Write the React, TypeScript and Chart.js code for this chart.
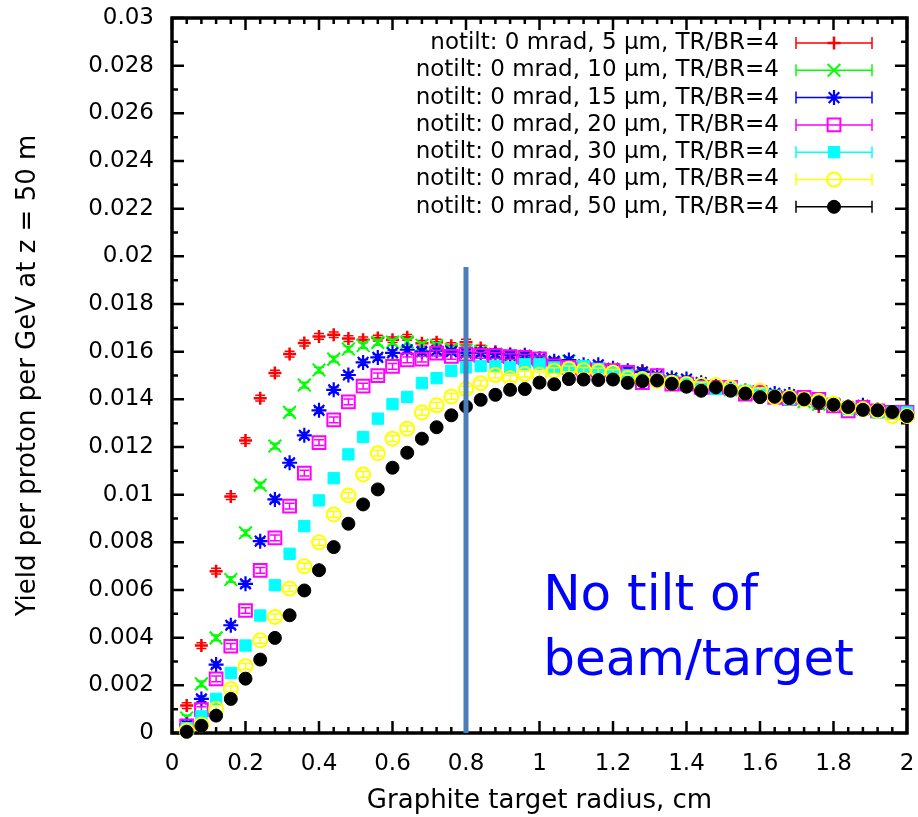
import React, { useEffect, useRef } from 'react';
import { Chart, registerables, PointElement } from 'chart.js';

Chart.register(...registerables);

// ---------------- data ----------------
const X_VALUES = [0.04, 0.08, 0.12, 0.16, 0.2, 0.24, 0.28, 0.32, 0.36, 0.4, 0.44, 0.48, 0.52, 0.56, 0.6, 0.64, 0.68, 0.72, 0.76, 0.8, 0.84, 0.88, 0.92, 0.96, 1.0, 1.04, 1.08, 1.12, 1.16, 1.2, 1.24, 1.28, 1.32, 1.36, 1.4, 1.44, 1.48, 1.52, 1.56, 1.6, 1.64, 1.68, 1.72, 1.76, 1.8, 1.84, 1.88, 1.92, 1.96, 2.0];

const SERIES_LABELS = [
  'notilt: 0 mrad, 5 μm, TR/BR=4',
  'notilt: 0 mrad, 10 μm, TR/BR=4',
  'notilt: 0 mrad, 15 μm, TR/BR=4',
  'notilt: 0 mrad, 20 μm, TR/BR=4',
  'notilt: 0 mrad, 30 μm, TR/BR=4',
  'notilt: 0 mrad, 40 μm, TR/BR=4',
  'notilt: 0 mrad, 50 μm, TR/BR=4',
];

const Y_5UM = [0.00115, 0.00367, 0.00679, 0.00992, 0.01227, 0.01405, 0.0151, 0.0159, 0.01636, 0.01664, 0.01671, 0.01655, 0.0165, 0.01657, 0.0165, 0.0166, 0.01635, 0.0164, 0.01625, 0.0164, 0.01615, 0.016, 0.0159, 0.0158, 0.01565, 0.01555, 0.01545, 0.01535, 0.01525, 0.01515, 0.01505, 0.0152, 0.01495, 0.0148, 0.0147, 0.0146, 0.01455, 0.01445, 0.0143, 0.0142, 0.01415, 0.01405, 0.01395, 0.0137, 0.0138, 0.01365, 0.0136, 0.0135, 0.01345, 0.01335];
const Y_10UM = [0.00063, 0.00206, 0.00399, 0.00644, 0.0084, 0.0104, 0.01204, 0.01345, 0.0146, 0.01523, 0.01569, 0.01611, 0.01626, 0.01639, 0.0164, 0.01641, 0.01627, 0.01625, 0.0161, 0.01605, 0.016, 0.0159, 0.0158, 0.0157, 0.0156, 0.0155, 0.0156, 0.01535, 0.01525, 0.01515, 0.01505, 0.01495, 0.01485, 0.01475, 0.01465, 0.01455, 0.0145, 0.0144, 0.0142, 0.01425, 0.01415, 0.01405, 0.0139, 0.0138, 0.0138, 0.0136, 0.0136, 0.0135, 0.01345, 0.0134];
const Y_15UM = [0.00035, 0.00143, 0.00287, 0.00452, 0.00626, 0.00805, 0.0098, 0.01134, 0.01249, 0.01354, 0.0144, 0.01502, 0.01555, 0.01576, 0.01595, 0.01608, 0.016, 0.01604, 0.016, 0.01595, 0.01595, 0.0159, 0.01585, 0.01585, 0.0157, 0.0156, 0.01565, 0.01545, 0.01545, 0.0153, 0.0152, 0.01515, 0.015, 0.0149, 0.01485, 0.0147, 0.0146, 0.0145, 0.01435, 0.0143, 0.01425, 0.0142, 0.014, 0.01385, 0.0138, 0.0137, 0.01375, 0.01355, 0.01345, 0.0134];
const Y_20UM = [0.0003, 0.00098, 0.00227, 0.00364, 0.00514, 0.00682, 0.00819, 0.00952, 0.0109, 0.01218, 0.01314, 0.01389, 0.01455, 0.01499, 0.01538, 0.01566, 0.01569, 0.01594, 0.0158, 0.0159, 0.01584, 0.01583, 0.01579, 0.01576, 0.0157, 0.0154, 0.01534, 0.01527, 0.01524, 0.0152, 0.01513, 0.0147, 0.01499, 0.01464, 0.01464, 0.0145, 0.0145, 0.0145, 0.01422, 0.01429, 0.01408, 0.01403, 0.01408, 0.014, 0.01373, 0.01352, 0.01366, 0.01352, 0.01345, 0.01345];
const Y_30UM = [0.0002, 0.0007, 0.00143, 0.00252, 0.00367, 0.00493, 0.0062, 0.00752, 0.00868, 0.00976, 0.01069, 0.01169, 0.01242, 0.01319, 0.0138, 0.0141, 0.01468, 0.01489, 0.0152, 0.01534, 0.0154, 0.0154, 0.01534, 0.01548, 0.01548, 0.01534, 0.0153, 0.0154, 0.01527, 0.01513, 0.015, 0.01485, 0.01485, 0.0147, 0.01464, 0.0145, 0.01443, 0.01443, 0.01436, 0.01422, 0.01415, 0.014, 0.014, 0.0139, 0.0138, 0.01359, 0.01359, 0.01345, 0.01345, 0.01345];
const Y_40UM = [0.0001, 0.00035, 0.00101, 0.00185, 0.0028, 0.00389, 0.00487, 0.00606, 0.007, 0.008, 0.00917, 0.00997, 0.01085, 0.01174, 0.01235, 0.01277, 0.01345, 0.01375, 0.01412, 0.01443, 0.01468, 0.01502, 0.01488, 0.01506, 0.01503, 0.0152, 0.01528, 0.01522, 0.01518, 0.01513, 0.0149, 0.01485, 0.01478, 0.0147, 0.01464, 0.0146, 0.0146, 0.0145, 0.01429, 0.01436, 0.01408, 0.01408, 0.014, 0.01394, 0.0138, 0.01366, 0.01359, 0.01352, 0.0133, 0.0133];
const Y_50UM = [0.00005, 0.0003, 0.00073, 0.00143, 0.00228, 0.00308, 0.00399, 0.00494, 0.00598, 0.00683, 0.0078, 0.00878, 0.00959, 0.01022, 0.01113, 0.01176, 0.01235, 0.01283, 0.01333, 0.0137, 0.01398, 0.01419, 0.0144, 0.01443, 0.0147, 0.01463, 0.01485, 0.01483, 0.01481, 0.01483, 0.01469, 0.01476, 0.01479, 0.01465, 0.01453, 0.01436, 0.0145, 0.01436, 0.01424, 0.01409, 0.01411, 0.01405, 0.014, 0.01387, 0.01377, 0.01368, 0.01356, 0.01354, 0.01347, 0.0133];

const SERIES_VALUES = [Y_5UM, Y_10UM, Y_15UM, Y_20UM, Y_30UM, Y_40UM, Y_50UM];

// half-height of the error bars drawn on every point
const ERRORBAR_HALF = 0.00012;

const X_TICKS = [0, 0.2, 0.4, 0.6, 0.8, 1.0, 1.2, 1.4, 1.6, 1.8, 2.0];
const X_TICK_LABELS = ['0', '0.2', '0.4', '0.6', '0.8', '1', '1.2', '1.4', '1.6', '1.8', '2'];
const Y_TICKS = [0, 0.002, 0.004, 0.006, 0.008, 0.01, 0.012, 0.014, 0.016, 0.018, 0.02, 0.022, 0.024, 0.026, 0.028, 0.03];
const Y_TICK_LABELS = ['0', '0.002', '0.004', '0.006', '0.008', '0.01', '0.012', '0.014', '0.016', '0.018', '0.02', '0.022', '0.024', '0.026', '0.028', '0.03'];

const X_TITLE = 'Graphite target radius, cm';
const Y_TITLE = 'Yield per proton per GeV at z = 50 m';

const VLINE_X = [0.8, 0.8];
const VLINE_Y = [0, 0.01955];

const NOTE_LINES = ['No tilt of', 'beam/target'];
const NOTE_X = 1.01;
const NOTE_Y = [0.00518, 0.00245];

// ---------------- styles ----------------
const SERIES_STYLES = [
  { color: '#ff0000', pointStyle: 'cross', radius: 6.5, borderWidth: 2.5, fill: false },
  { color: '#00ff00', pointStyle: 'crossRot', radius: 9, borderWidth: 2, fill: false },
  { color: '#0000ff', pointStyle: 'star', radius: 7.5, borderWidth: 2.2, fill: false },
  { color: '#ff00ff', pointStyle: 'rect', radius: 9, borderWidth: 2, fill: false },
  { color: '#00ffff', pointStyle: 'rect', radius: 8, borderWidth: 1, fill: true },
  { color: '#ffff00', pointStyle: 'circle', radius: 7, borderWidth: 2, fill: false },
  { color: '#000000', pointStyle: 'circle', radius: 6.5, borderWidth: 1, fill: true },
];

const FONT = 'DejaVu Sans';
const NSERIES = SERIES_VALUES.length;

const decorPlugin = {
  id: 'decor',
  beforeDatasetsDraw(chart: any) {
    const { ctx, chartArea: a, scales } = chart;
    const xs = scales.x;
    const ys = scales.y;
    ctx.save();
    ctx.strokeStyle = '#000';
    ctx.lineWidth = 2.5;
    ctx.beginPath();
    const MAJ = 12;
    const MIN = 6;
    const xt = (v: number, len: number) => {
      const px = xs.getPixelForValue(v);
      ctx.moveTo(px, a.bottom);
      ctx.lineTo(px, a.bottom - len);
      ctx.moveTo(px, a.top);
      ctx.lineTo(px, a.top + len);
    };
    const yt = (v: number, len: number) => {
      const py = ys.getPixelForValue(v);
      ctx.moveTo(a.left, py);
      ctx.lineTo(a.left + len, py);
      ctx.moveTo(a.right, py);
      ctx.lineTo(a.right - len, py);
    };
    for (let i = 0; i < X_TICKS.length; i++) {
      xt(X_TICKS[i], MAJ);
      if (i < X_TICKS.length - 1) {
        for (let k = 1; k < 5; k++) xt(X_TICKS[i] + ((X_TICKS[i + 1] - X_TICKS[i]) * k) / 5, MIN);
      }
    }
    for (let i = 0; i < Y_TICKS.length; i++) {
      yt(Y_TICKS[i], MAJ);
      if (i < Y_TICKS.length - 1) yt((Y_TICKS[i] + Y_TICKS[i + 1]) / 2, MIN);
    }
    ctx.stroke();
    ctx.lineWidth = 3.5;
    ctx.strokeRect(a.left, a.top, a.right - a.left, a.bottom - a.top);
    ctx.restore();
  },
  beforeDatasetDraw(chart: any, args: any) {
    const i = args.index;
    if (i >= NSERIES) return;
    const { ctx } = chart;
    const ys = chart.scales.y;
    const st = SERIES_STYLES[i];
    const data = chart.data.datasets[i].data;
    ctx.save();
    ctx.strokeStyle = st.color;
    ctx.lineWidth = 1.5;
    ctx.beginPath();
    args.meta.data.forEach((el: any, j: number) => {
      const v = data[j].y;
      const t = ys.getPixelForValue(v + ERRORBAR_HALF);
      const b = ys.getPixelForValue(v - ERRORBAR_HALF);
      ctx.moveTo(el.x, t);
      ctx.lineTo(el.x, b);
      ctx.moveTo(el.x - 5, t);
      ctx.lineTo(el.x + 5, t);
      ctx.moveTo(el.x - 5, b);
      ctx.lineTo(el.x + 5, b);
    });
    ctx.stroke();
    ctx.restore();
  },
  afterDatasetsDraw(chart: any) {
    const { ctx, chartArea: a } = chart;
    ctx.save();
    ctx.font = `23px "${FONT}"`;
    ctx.textAlign = 'right';
    ctx.textBaseline = 'middle';
    for (let i = 0; i < NSERIES; i++) {
      const st = SERIES_STYLES[i];
      const y = a.top + 25 + i * 27.3;
      ctx.fillStyle = '#000';
      ctx.fillText(SERIES_LABELS[i], a.right - 128, y);
      const x0 = a.right - 111;
      const x1 = a.right - 35;
      ctx.strokeStyle = st.color;
      ctx.lineWidth = 1.5;
      ctx.beginPath();
      ctx.moveTo(x0, y);
      ctx.lineTo(x1, y);
      ctx.moveTo(x0, y - 6);
      ctx.lineTo(x0, y + 6);
      ctx.moveTo(x1, y - 6);
      ctx.lineTo(x1, y + 6);
      ctx.stroke();
      const pe: any = new (PointElement as any)({
        x: (x0 + x1) / 2,
        y,
        options: {
          pointStyle: st.pointStyle,
          radius: st.radius,
          rotation: 0,
          borderWidth: st.borderWidth,
          borderColor: st.color,
          backgroundColor: st.fill ? st.color : 'rgba(0,0,0,0)',
        },
      });
      pe.draw(ctx, a);
    }
    ctx.restore();
  },
  afterDraw(chart: any) {
    const { ctx, scales } = chart;
    ctx.save();
    ctx.fillStyle = '#0000ff';
    ctx.font = `50px "Comic Sans MS", "${FONT}"`;
    ctx.textAlign = 'left';
    ctx.textBaseline = 'alphabetic';
    NOTE_LINES.forEach((t, i) => {
      ctx.fillText(t, scales.x.getPixelForValue(NOTE_X), scales.y.getPixelForValue(NOTE_Y[i]));
    });
    ctx.restore();
  },
};

export default function App() {
  const ref = useRef<HTMLCanvasElement | null>(null);
  useEffect(() => {
    if (!ref.current) return;
    const datasets: any[] = SERIES_VALUES.map((vals, i) => {
      const st = SERIES_STYLES[i];
      return {
        label: SERIES_LABELS[i],
        data: X_VALUES.map((x, j) => ({ x, y: vals[j] })),
        pointStyle: st.pointStyle,
        pointRadius: st.radius,
        pointHoverRadius: st.radius,
        pointBorderWidth: st.borderWidth,
        pointBorderColor: st.color,
        pointBackgroundColor: st.fill ? st.color : 'rgba(0,0,0,0)',
        borderColor: st.color,
        backgroundColor: st.fill ? st.color : 'rgba(0,0,0,0)',
        showLine: false,
        clip: false,
        order: NSERIES - i,
      };
    });
    datasets.push({
      label: 'vline',
      data: VLINE_X.map((x, j) => ({ x, y: VLINE_Y[j] })),
      showLine: true,
      borderColor: '#4a7ebb',
      borderWidth: 5,
      pointRadius: 0,
      clip: false,
      order: -1,
    });
    const chart = new Chart(ref.current, {
      type: 'scatter',
      data: { datasets },
      options: {
        animation: false,
        responsive: false,
        events: [],
        layout: { padding: { left: 0, right: 10, top: 18, bottom: 0 } },
        plugins: { legend: { display: false }, tooltip: { enabled: false } },
        scales: {
          x: {
            type: 'linear',
            min: 0,
            max: 2,
            grid: { display: false, drawTicks: false },
            border: { display: false },
            afterBuildTicks: (s: any) => {
              s.ticks = X_TICKS.map((v) => ({ value: v }));
            },
            afterFit: (s: any) => {
              s.height = 84;
              s.paddingLeft = 0;
              s.paddingRight = 0;
            },
            ticks: {
              autoSkip: false,
              maxRotation: 0,
              padding: 17,
              color: '#000',
              font: { family: FONT, size: 23 },
              callback: (_v: any, i: number) => X_TICK_LABELS[i],
            },
            title: {
              display: true,
              text: X_TITLE,
              color: '#000',
              font: { family: FONT, size: 26 },
              padding: { top: 0, bottom: 0 },
            },
          },
          y: {
            type: 'linear',
            min: 0,
            max: 0.03,
            grid: { display: false, drawTicks: false },
            border: { display: false },
            afterBuildTicks: (s: any) => {
              s.ticks = Y_TICKS.map((v) => ({ value: v }));
            },
            afterFit: (s: any) => {
              s.width = 172;
              s.paddingTop = 0;
              s.paddingBottom = 0;
            },
            ticks: {
              autoSkip: false,
              padding: 18,
              color: '#000',
              font: { family: FONT, size: 23 },
              callback: (_v: any, i: number) => Y_TICK_LABELS[i],
            },
            title: {
              display: true,
              text: Y_TITLE,
              color: '#000',
              font: { family: FONT, size: 26 },
              padding: { top: 13, bottom: 0 },
            },
          },
        },
      },
      plugins: [decorPlugin],
    } as any);
    return () => chart.destroy();
  }, []);
  return (
    <canvas
      ref={ref}
      width={918}
      height={817}
      style={{ position: 'absolute', left: 0, top: 0, width: 918, height: 817, display: 'block' }}
    />
  );
}
